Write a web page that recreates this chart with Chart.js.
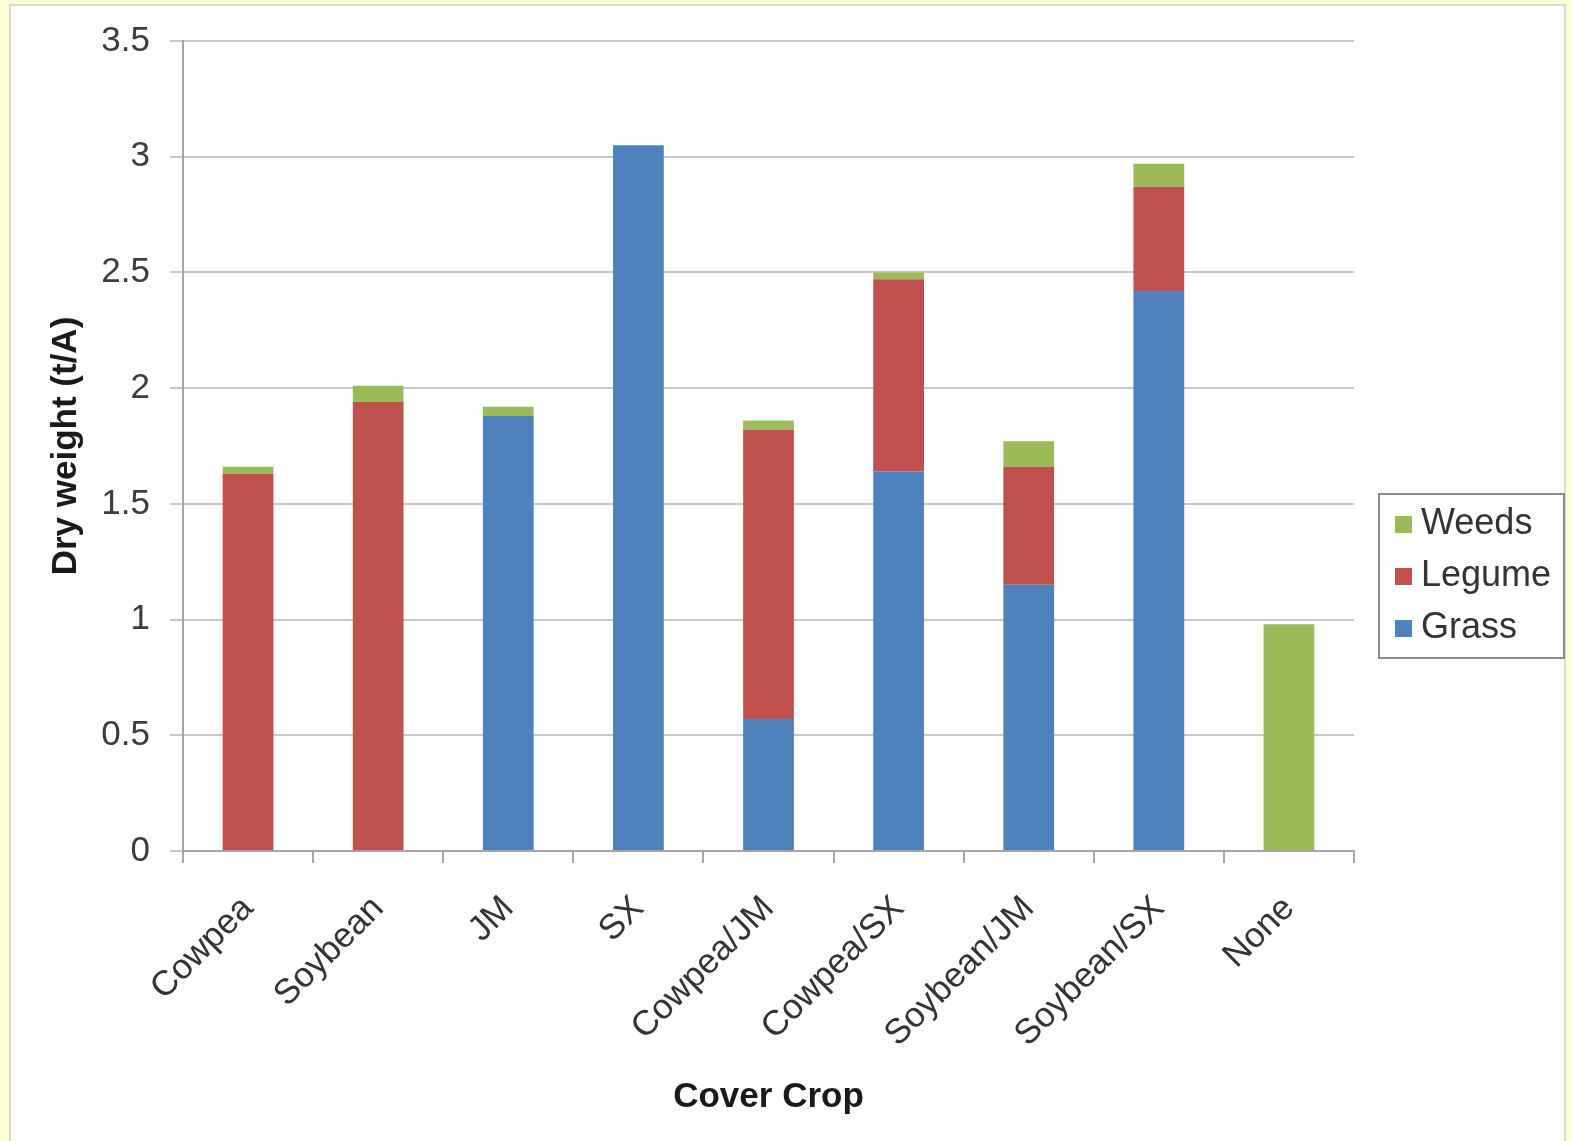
<!DOCTYPE html>
<html>
<head>
<meta charset="utf-8">
<script src="https://cdn.jsdelivr.net/npm/chart.js@4"></script>
<style>
  html, body { margin: 0; padding: 0; background: #fefed6; overflow: hidden; }
  canvas { display: block; }
</style>
</head>
<body>
<canvas id="coverChart" width="1572" height="1141"></canvas>
<script>
// Data (t/A)
const crops = ['Cowpea', 'Soybean', 'JM', 'SX', 'Cowpea/JM', 'Cowpea/SX', 'Soybean/JM', 'Soybean/SX', 'None'];
const grass = [0, 0, 1.88, 3.05, 0.57, 1.64, 1.15, 2.42, 0];
const legume = [1.63, 1.94, 0, 0, 1.25, 0.83, 0.51, 0.45, 0];
const weeds = [0.03, 0.07, 0.04, 0, 0.04, 0.03, 0.11, 0.1, 0.98];
const yMin = 0;
const yMax = 3.5;
const yStep = 0.5;

const fontFamily = '"Liberation Sans", Arial, sans-serif';

// yellow page with the white chart box
const pageBackground = {
    id: 'pageBackground',
    beforeDraw(chart) {
        const ctx = chart.ctx;
        ctx.save();
        ctx.fillStyle = '#fefed6';
        ctx.fillRect(0, 0, chart.width, chart.height);
        ctx.fillStyle = '#ffffff';
        ctx.fillRect(10, 5, 1555, chart.height - 5);
        ctx.strokeStyle = '#d9d9d0';
        ctx.lineWidth = 2;
        ctx.strokeRect(10, 5, 1555, chart.height + 5);
        ctx.restore();
    }
};

// boxed legend to the right of the plot, Excel style
const boxLegend = {
    id: 'boxLegend',
    afterDraw(chart) {
        const ctx = chart.ctx;
        const area = chart.chartArea;
        const left = area.right + 25;
        const top = 494;
        const width = 185;
        const height = 164;
        ctx.save();
        ctx.strokeStyle = '#8a8a8a';
        ctx.lineWidth = 2;
        ctx.strokeRect(left, top, width, height);
        ctx.font = '36px ' + fontFamily;
        ctx.textBaseline = 'middle';
        ctx.textAlign = 'left';
        const items = chart.data.datasets.slice().reverse();
        items.forEach(function(ds, i) {
            const cy = top + 30 + i * 52;
            ctx.fillStyle = ds.backgroundColor;
            ctx.fillRect(left + 16, cy - 8, 17, 17);
            ctx.fillStyle = '#333333';
            ctx.fillText(ds.label, left + 42, cy);
        });
        ctx.restore();
    }
};

const ctx = document.getElementById('coverChart').getContext('2d');
new Chart(ctx, {
    type: 'bar',
    data: {
        labels: crops,
        datasets: [{
            label: 'Grass',
            data: grass,
            backgroundColor: '#4f81bd'
        }, {
            label: 'Legume',
            data: legume,
            backgroundColor: '#c0504d'
        }, {
            label: 'Weeds',
            data: weeds,
            backgroundColor: '#9bbb59'
        }]
    },
    options: {
        responsive: false,
        animation: false,
        barPercentage: 0.39,
        categoryPercentage: 1,
        layout: {
            padding: { top: 40, right: 218, bottom: 0, left: 0 }
        },
        plugins: {
            legend: { display: false },
            tooltip: { enabled: false }
        },
        scales: {
            x: {
                stacked: true,
                afterFit: function(scale) { scale.height = 290; },
                grid: {
                    offset: true,
                    drawOnChartArea: false,
                    tickLength: 12,
                    color: '#a6a6a6',
                    lineWidth: 2
                },
                border: { color: '#a6a6a6', width: 2 },
                ticks: {
                    minRotation: 45,
                    maxRotation: 45,
                    padding: 25,
                    color: '#333333',
                    font: { family: fontFamily, size: 35 }
                },
                title: {
                    display: true,
                    text: 'Cover Crop',
                    color: '#1a1a1a',
                    padding: { top: 0, bottom: 23 },
                    font: { family: fontFamily, size: 35, weight: 'bold' }
                }
            },
            y: {
                stacked: true,
                min: yMin,
                max: yMax,
                afterFit: function(scale) { scale.width = 183; },
                grid: {
                    color: '#c8c8c8',
                    lineWidth: 2,
                    tickLength: 13
                },
                border: { color: '#a6a6a6', width: 2 },
                ticks: {
                    stepSize: yStep,
                    padding: 20,
                    color: '#3c3c3c',
                    font: { family: fontFamily, size: 35 },
                    callback: function(v) { return String(v); }
                },
                title: {
                    display: true,
                    text: 'Dry weight (t/A)',
                    color: '#1a1a1a',
                    padding: { top: 45, bottom: 0 },
                    font: { family: fontFamily, size: 35, weight: 'bold' }
                }
            }
        }
    },
    plugins: [pageBackground, boxLegend]
});
</script>
</body>
</html>
